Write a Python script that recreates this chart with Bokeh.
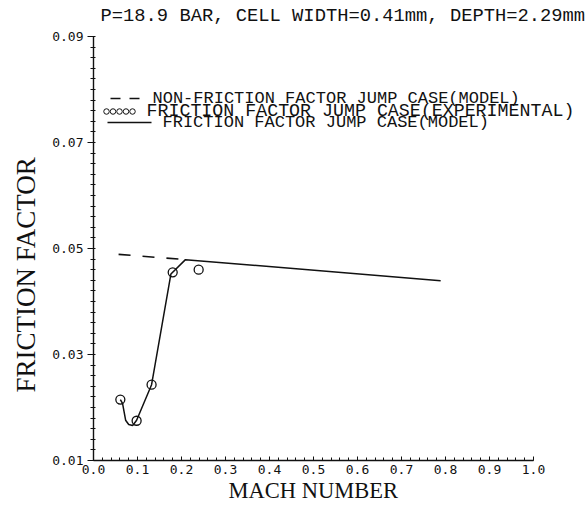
import numpy as np
from bokeh.plotting import figure
from bokeh.models import FixedTicker, Label, Range1d, Title
from bokeh.embed import file_html
from bokeh.resources import INLINE

# ---------------- data ----------------
title_text = "P=18.9 BAR, CELL WIDTH=0.41mm, DEPTH=2.29mm"
x_label = "MACH NUMBER"
y_label = "FRICTION FACTOR"
legend_labels = [
    "NON-FRICTION FACTOR JUMP CASE(MODEL)",
    "FRICTION FACTOR JUMP CASE(EXPERIMENTAL)",
    "FRICTION FACTOR JUMP CASE(MODEL)",
]

x_ticks = [0.0, 0.1, 0.2, 0.3, 0.4, 0.5, 0.6, 0.7, 0.8, 0.9, 1.0]
x_tick_labels = ["0.0", "0.1", "0.2", "0.3", "0.4", "0.5", "0.6", "0.7", "0.8", "0.9", "1.0"]
y_ticks = [0.01, 0.03, 0.05, 0.07, 0.09]
y_tick_labels = ["0.01", "0.03", "0.05", "0.07", "0.09"]

# experimental points (friction factor jump case)
mach_exp = [0.061, 0.098, 0.132, 0.180, 0.239]
f_exp = [0.0215, 0.0175, 0.0243, 0.0455, 0.0460]

# model curve (friction factor jump case)
mach_jump_model = [0.061, 0.066, 0.073, 0.080, 0.089, 0.098, 0.132, 0.176, 0.209, 0.789]
f_jump_model = [0.0215, 0.0208, 0.0176, 0.0168, 0.0166, 0.0176, 0.0243, 0.0452, 0.0479, 0.0439]

# model curve (non friction factor jump case)
mach_nonjump_model = [0.057, 0.209]
f_nonjump_model = [0.0489, 0.0479]

# ---------------- layout ----------------
W, H = 588, 508
BL, BB = 93, 48            # frame runs to the top and right edges of the canvas
XA0, XA1 = 0.0, 1.0        # drawn axis extents
YA0, YA1 = 0.01, 0.09
AX_PX_W, AX_PX_H = 440, 424  # pixel length of the drawn axes
XPPU = AX_PX_W / (XA1 - XA0)
YPPU = AX_PX_H / (YA1 - YA0)
X_END = XA0 + (W - BL) / XPPU
Y_END = YA0 + (H - BB) / YPPU


def dx(px):
    return XA0 + (px - BL) / XPPU


def dy(py):
    return YA0 + (H - BB - py) / YPPU


p = figure(width=W, height=H, x_range=Range1d(XA0, X_END), y_range=Range1d(YA0, Y_END),
           output_backend="svg", toolbar_location=None, title=None,
           min_border_left=BL, min_border_right=0, min_border_top=0, min_border_bottom=BB)
p.outline_line_color = None
p.grid.visible = False
p.background_fill_color = "white"
p.border_fill_color = "white"

INK = "#111111"
MONO = "Liberation Mono"
TICKFONT = "DejaVu Sans Mono"
SERIF = "Liberation Serif"

# x axis
p.xaxis.bounds = (XA0, XA1)
p.xaxis.ticker = FixedTicker(ticks=x_ticks,
                             minor_ticks=list(np.round(np.arange(0, 1.0001, 0.02), 4)))
p.xaxis.major_label_overrides = dict(zip(x_ticks, x_tick_labels))
p.xaxis.axis_line_color = INK
p.xaxis.axis_line_width = 1.4
p.xaxis.major_tick_in = 4
p.xaxis.major_tick_out = 0
p.xaxis.minor_tick_in = 3
p.xaxis.minor_tick_out = 0
p.xaxis.major_tick_line_color = INK
p.xaxis.minor_tick_line_color = INK
p.xaxis.major_label_standoff = 4
p.xaxis.major_label_text_font = TICKFONT
p.xaxis.major_label_text_font_size = "13px"
p.xaxis.major_label_text_color = INK

# y axis
p.yaxis.bounds = (YA0, YA1)
p.yaxis.ticker = FixedTicker(ticks=y_ticks,
                             minor_ticks=list(np.round(np.arange(0.01, 0.09001, 0.002), 4)))
p.yaxis.major_label_overrides = dict(zip(y_ticks, y_tick_labels))
p.yaxis.axis_line_color = INK
p.yaxis.axis_line_width = 1.4
p.yaxis.major_tick_in = 0
p.yaxis.major_tick_out = 6
p.yaxis.minor_tick_in = 2
p.yaxis.minor_tick_out = 3
p.yaxis.major_tick_line_color = INK
p.yaxis.minor_tick_line_color = INK
p.yaxis.major_label_standoff = 4
p.yaxis.major_label_text_font = TICKFONT
p.yaxis.major_label_text_font_size = "13px"
p.yaxis.major_label_text_color = INK

# axis titles in the side panels
p.add_layout(Title(text=x_label, align="left", offset=135, standoff=0,
                   text_font=SERIF, text_font_size="22.5px", text_font_style="normal",
                   text_color=INK, vertical_align="middle"), "below")
p.add_layout(Title(text=y_label, align="left", offset=68, standoff=17,
                   text_font=SERIF, text_font_size="27px", text_font_style="normal",
                   text_color=INK, vertical_align="bottom"), "left")

# ---------------- marks ----------------
p.line(mach_jump_model, f_jump_model, line_color=INK, line_width=1.5)
p.line(mach_nonjump_model, f_nonjump_model, line_color=INK, line_width=1.6, line_dash="12 12")
p.scatter(mach_exp, f_exp, marker="circle", size=9, fill_color=None,
          line_color=INK, line_width=1.3)

# ---------------- legend ----------------
row_y = [98, 110, 122]
text_x = [152, 146, 162]
text_size = ["17px", "18.3px", "17px"]
p.line([dx(110), dx(141)], [dy(row_y[0])] * 2, line_color=INK, line_width=1.4, line_dash="10 9")
p.scatter([dx(106 + 6.5 * i) for i in range(5)], [dy(row_y[1] + 1)] * 5, marker="circle",
          size=5.5, fill_color=None, line_color=INK, line_width=1.0)
p.line([dx(107), dx(151)], [dy(row_y[2])] * 2, line_color=INK, line_width=1.4)
for lab, tx, ty, ts in zip(legend_labels, text_x, row_y, text_size):
    p.add_layout(Label(x=dx(tx), y=dy(ty), text=lab, text_font=MONO,
                       text_font_size=ts, text_color=INK,
                       text_baseline="middle", text_align="left"))

# ---------------- plot title ----------------
p.add_layout(Label(x=dx(100), y=dy(15), text=title_text, text_font=MONO,
                   text_font_size="18.8px", text_color=INK,
                   text_baseline="middle", text_align="left"))

open("out.html", "w").write(file_html(p, INLINE))
